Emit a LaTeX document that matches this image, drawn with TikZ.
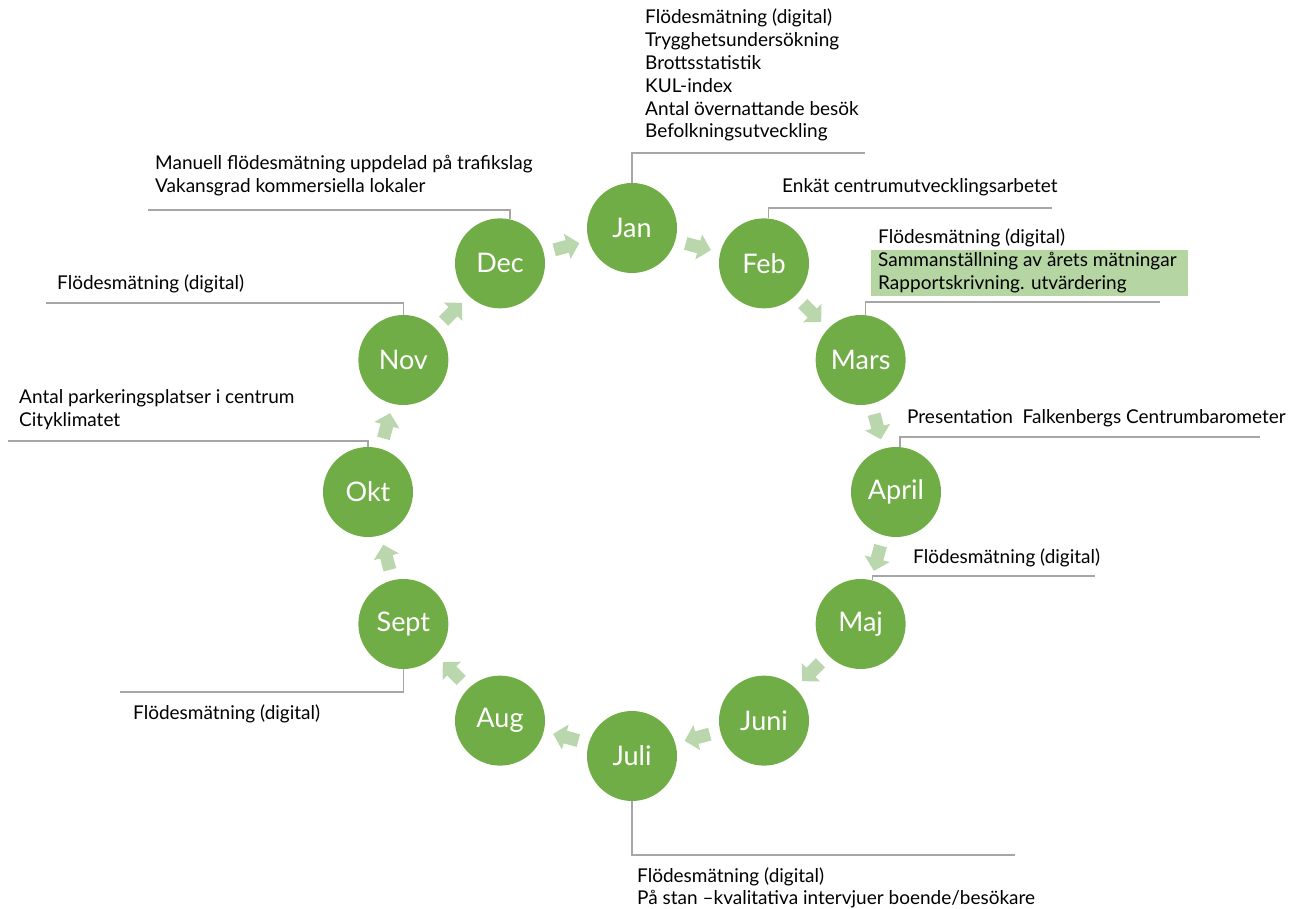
\documentclass[tikz,border=0pt]{standalone}
\usepackage{fontspec}
\setmainfont{Lato}
\usetikzlibrary{calc}
\definecolor{mgreen}{HTML}{70AD47}
\definecolor{agreen}{HTML}{BAD6AC}
\definecolor{hgreen}{HTML}{B5D6A3}
\definecolor{lgray}{HTML}{A6A6A6}
\tikzset{
  month/.style={circle,fill=mgreen,minimum size=90pt,inner sep=0pt,text=white,font=\fontsize{27}{30}\selectfont},
  callout/.style={draw=lgray,line width=1.4pt},
  ctext/.style={anchor=base west,inner sep=0pt,align=left,font=\fontsize{19}{22.8}\selectfont,text=black},
  blockarrow/.pic={\fill[agreen] (-12.5,-6.5) -- (1,-6.5) -- (1,-13) -- (13.5,0) -- (1,13) -- (1,6.5) -- (-12.5,6.5) -- cycle;}
}
\begin{document}
\begin{tikzpicture}[x=1pt,y=1pt]
\useasboundingbox (0,0) rectangle (1290,908);
\foreach \m [count=\i from 0] in {Jan,Feb,Mars,April,Maj,Juni,Juli,Aug,Sept,Okt,Nov,Dec}{
  \pgfmathsetmacro\a{90-30*\i}
  \node[month] (\m) at ({632+264*cos(\a)},{416+264*sin(\a)}) {\m};
  \pgfmathsetmacro\b{75-30*\i}
  \pic[rotate=\b-90] (arr\i) at ({632+254*cos(\b)},{416+254*sin(\b)}) {blockarrow};
}
% highlight
\fill[hgreen] (871,612) rectangle (1188,658);
% callout ends
\coordinate (janR) at (865,755);
\coordinate (febR) at (1052,700);
\coordinate (marsR) at (1160,606);
\coordinate (aprR) at (1260,471);
\coordinate (majR) at (1095,332);
\coordinate (juliR) at (1015,53);
\coordinate (septL) at (120,216);
\coordinate (oktL) at (8,467);
\coordinate (novL) at (46,605);
\coordinate (decL) at (148,698);
\draw[callout] (Jan.north) |- (janR);
\draw[callout] (Feb.84) |- (febR);
\draw[callout] (Mars.84) |- (marsR);
\draw[callout] (April.85) |- (aprR);
\draw[callout] (Maj.75) |- (majR);
\draw[callout] (Juli.south) |- (juliR);
\draw[callout] (Sept.south) |- (septL);
\draw[callout] (Okt.north) |- (oktL);
\draw[callout] (Nov.north) |- (novL);
\draw[callout] (Dec.77) |- (decL);
% texts (base anchor = baseline of last line)
\node[ctext] (tJan) at (645,770) {Flödesmätning (digital)\\Trygghetsundersökning\\Brottsstatistik\\KUL-index\\Antal övernattande besök\\Befolkningsutveckling};
\node[ctext] (tFeb) at (782,715) {Enkät centrumutvecklingsarbetet};
\node[ctext] (tMars) at (878,618.4) {Flödesmätning (digital)\\Sammanställning av årets mätningar\\Rapportskrivning. utvärdering};
\node[ctext] (tApr) at (907,484) {Presentation\ \ Falkenbergs Centrumbarometer};
\node[ctext] (tMaj) at (913,344) {Flödesmätning (digital)};
\node[ctext] (tJuli) at (637,3.2) {Flödesmätning (digital)\\På stan –kvalitativa intervjuer boende/besökare};
\node[ctext] (tSept) at (133,189) {Flödesmätning (digital)};
\node[ctext] (tOkt) at (19,481.2) {Antal parkeringsplatser i centrum\\Cityklimatet};
\node[ctext] (tNov) at (57,618) {Flödesmätning (digital)};
\node[ctext] (tDec) at (155,715.2) {Manuell flödesmätning uppdelad på trafikslag\\Vakansgrad kommersiella lokaler};
\end{tikzpicture}
\end{document}
